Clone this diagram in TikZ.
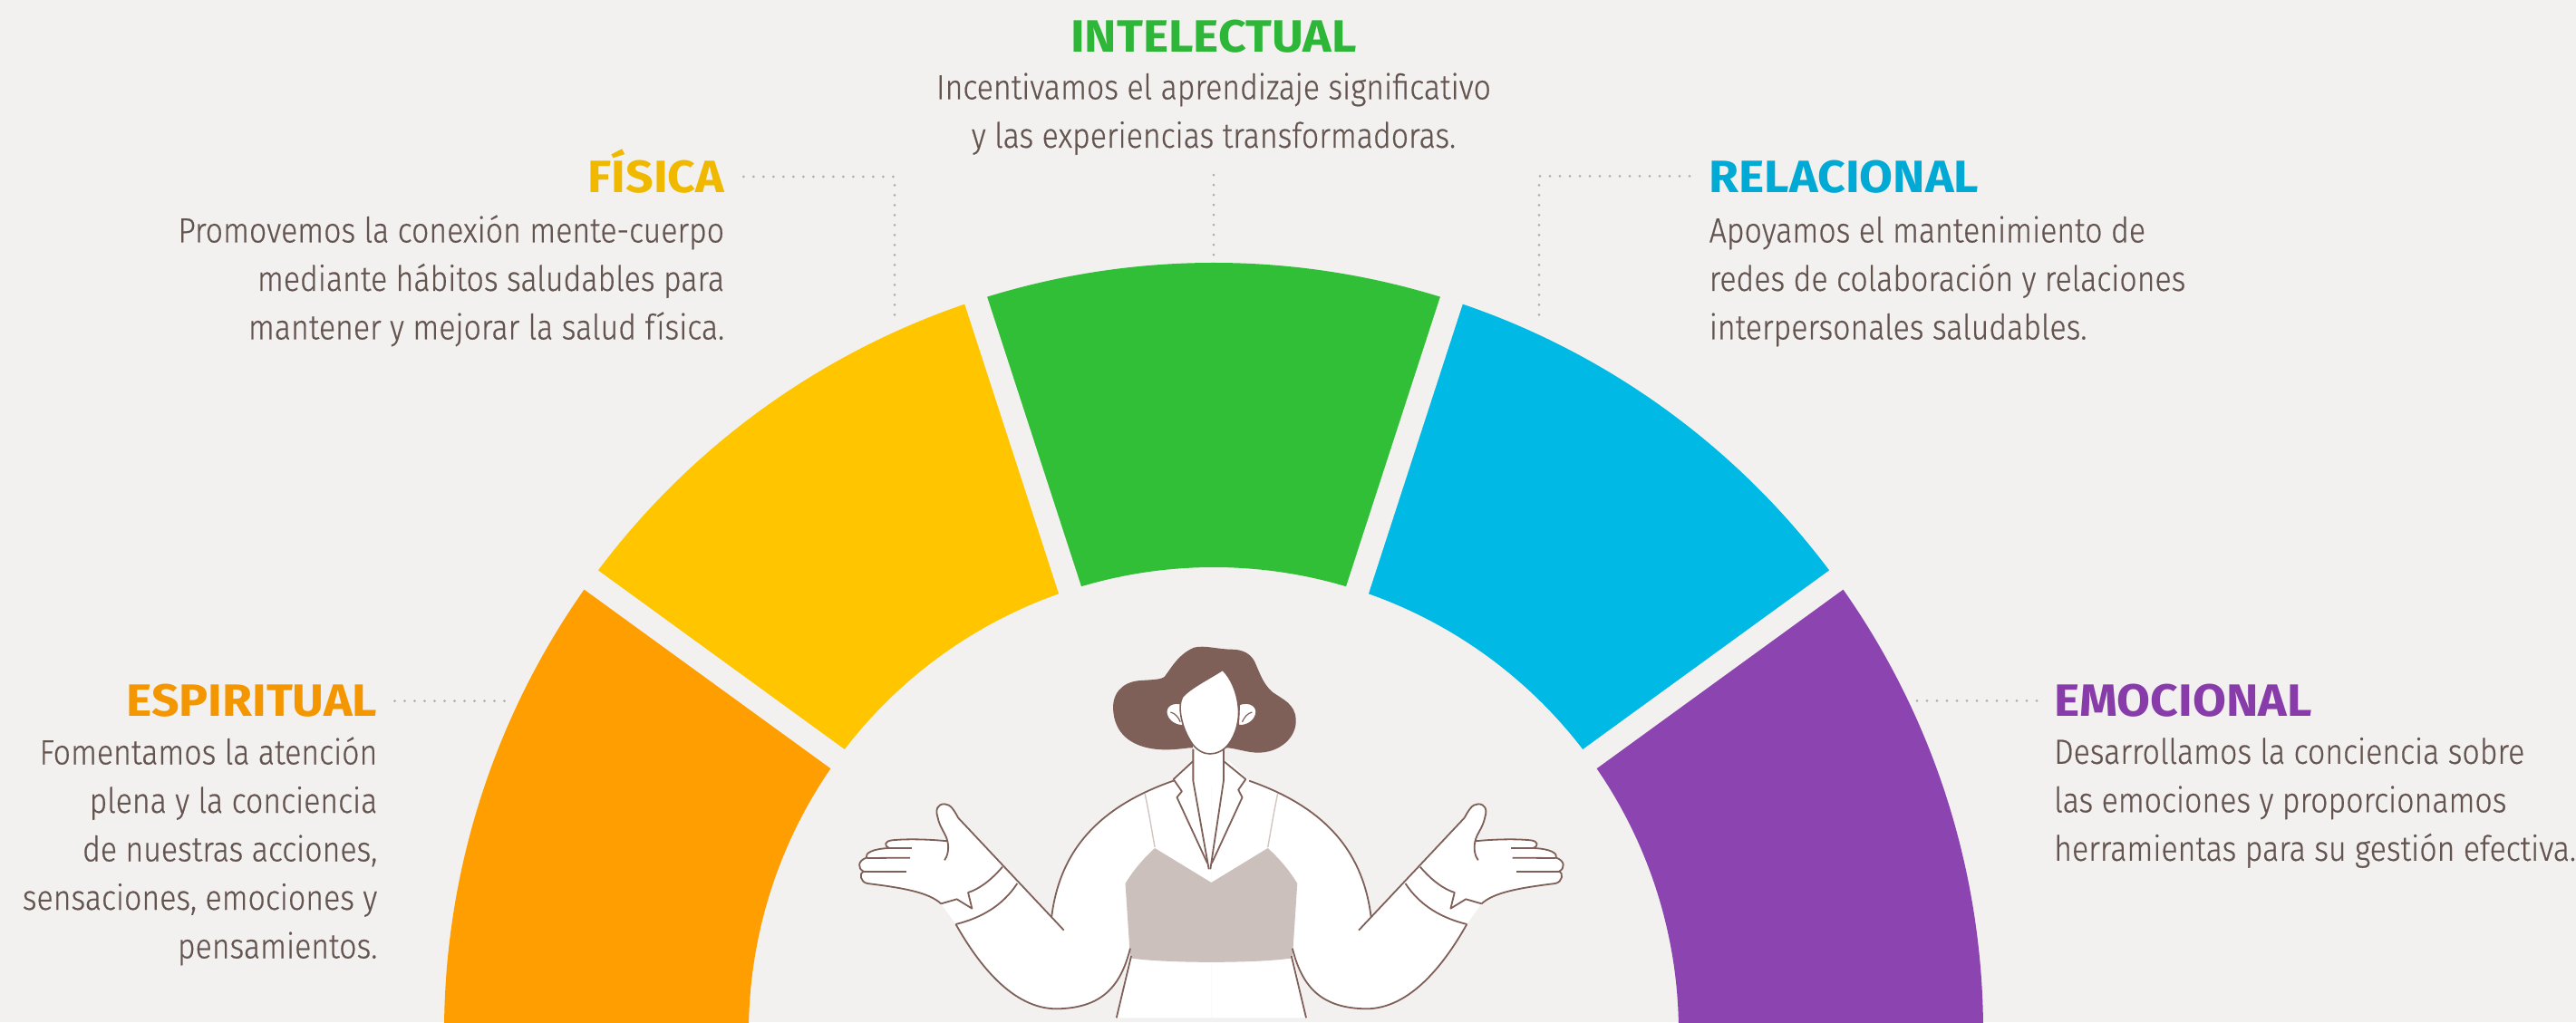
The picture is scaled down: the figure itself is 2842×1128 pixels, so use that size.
\documentclass[tikz,border=0pt]{standalone}
\usepackage{fontspec}
\setmainfont{Fira Sans}[UprightFont=* Light, FakeStretch=0.88, FakeBold=0.5]
\newfontfamily\headfont{Fira Sans}[FakeStretch=1.07]
\usetikzlibrary{calc}

\definecolor{bgc}{HTML}{F2F1EF}
\definecolor{segOrange}{HTML}{FF9E00}
\definecolor{segYellow}{HTML}{FFC600}
\definecolor{segGreen}{HTML}{31BF37}
\definecolor{segBlue}{HTML}{00B9E4}
\definecolor{segPurple}{HTML}{8C45B0}
\definecolor{hOrange}{HTML}{F39600}
\definecolor{hYellow}{HTML}{F0B900}
\definecolor{hGreen}{HTML}{2DB637}
\definecolor{hBlue}{HTML}{00AAD4}
\definecolor{hPurple}{HTML}{873CAA}
\definecolor{txt}{HTML}{645450}
\definecolor{dotc}{HTML}{B3ACA9}
\definecolor{hairc}{HTML}{7E6058}
\definecolor{strokec}{HTML}{7E6058}
\definecolor{cami}{HTML}{CBC0BC}
\definecolor{seamc}{HTML}{D2C6C2}

\newcommand\bodyfont{\fontsize{38.5}{53.5}\selectfont}
\newcommand\headsize{\headfont\bfseries\fontsize{50}{53.5}\selectfont}
\newcommand\topstrut{\rule{0pt}{32pt}}

% one half of the blouse: filled outline (mirrored for the other side)
\newcommand\halfblousefill{%
  \fill[white] (805,1330) -- (612,1330) -- (640,1110)
    .. controls (620,1230) and (580,1298) .. (490,1300)
    .. controls (400,1300) and (330,1150) .. (285,1020)
    -- (255,952)
    .. controls (230,915) and (180,900) .. (105,885)
    .. controls (90,880) and (88,850) .. (97,845)
    .. controls (85,835) and (85,810) .. (103,800)
    .. controls (100,785) and (115,770) .. (150,768)
    .. controls (138,760) and (140,745) .. (155,742)
    .. controls (190,736) and (240,740) .. (268,745)
    .. controls (265,720) and (252,700) .. (248,665)
    .. controls (243,640) and (248,622) .. (262,622)
    .. controls (275,622) and (282,645) .. (290,668)
    -- (480,995)
    .. controls (495,800) and (560,640) .. (728,545)
    -- (768,480) -- (805,480) -- cycle;
}
% one half of the blouse: outline strokes
\newcommand\halfblouselines{%
  \draw[fig] (480,995) .. controls (495,800) and (560,640) .. (728,545);
  \draw[fig] (290,668) -- (505,1040);
  \draw[fig] (640,1100) .. controls (620,1230) and (580,1298) .. (490,1300)
    .. controls (400,1300) and (330,1150) .. (285,1020);
  \draw[fig] (642,1125) -- (612,1330);
  \draw[fig] (255,952)
    .. controls (230,915) and (180,900) .. (105,885)
    .. controls (90,880) and (88,850) .. (97,845)
    .. controls (85,835) and (85,810) .. (103,800)
    .. controls (100,785) and (115,770) .. (150,768)
    .. controls (138,760) and (140,745) .. (155,742)
    .. controls (190,736) and (240,740) .. (268,745)
    .. controls (265,720) and (252,700) .. (248,665)
    .. controls (243,640) and (248,622) .. (262,622)
    .. controls (275,622) and (282,645) .. (290,668);
  \draw[fig] (195,769) -- (150,769);
  \draw[fig] (192,800) -- (104,801);
  \draw[fig] (185,845) -- (98,845);
  \draw[fig] (268,745) .. controls (272,770) and (268,795) .. (262,808);
  \draw[fig] (380,830) .. controls (355,878) and (330,905) .. (310,915)
    -- (318,968) -- (287,937) -- (255,952);
  \draw[fig] (410,885) .. controls (380,960) and (335,1000) .. (285,1020);
  \draw[seamc, line width=1.4] (670,588) .. controls (678,650) and (685,720) .. (690,765);
  \fill[white, draw=strokec, line width=1.5] (748,292) .. controls (725,280) and (710,300) .. (714,325)
    .. controls (718,350) and (735,365) .. (750,362) -- cycle;
  \draw[strokec, line width=1.2] (722,318) .. controls (732,322) and (738,335) .. (742,350);
}

\tikzset{
  body/.style={font=\bodyfont, text=txt, inner sep=0pt},
  head/.style={font=\headsize, inner sep=0pt},
  leader/.style={draw=dotc, line width=3, line cap=round, dash pattern=on 0pt off 11pt},
  fig/.style={draw=strokec, line width=1.8, line join=round},
}

\begin{document}
\begin{tikzpicture}[x=1pt,y=1pt]
\useasboundingbox (0,0) rectangle (2842,1128);
\fill[bgc] (0,0) rectangle (2842,1128);
\clip (0,0) rectangle (2842,1128);

% ring of five coloured sectors
\coordinate (C) at (1339,-11);
\foreach \a/\b/\c in {-10/36/segPurple, 36/72/segBlue, 72/108/segGreen, 108/144/segYellow, 144/190/segOrange}
  \fill[\c] ($(C)+(\a:849)$) arc[start angle=\a, end angle=\b, radius=849]
    -- ($(C)+(\b:513)$) arc[start angle=\b, end angle=\a, radius=513] -- cycle;
\foreach \a in {36,72,108,144}
  \draw[bgc, line width=26] ($(C)+(\a:480)$) -- ($(C)+(\a:880)$);

% ESPIRITUAL
\node[head, text=hOrange, anchor=base east] (espT) at (416.5,337.3) {ESPIRITUAL};
\node[body, align=right, anchor=north east] (espB) at (416.5,316.7)
  {\topstrut Fomentamos la atención\\plena y la conciencia\\de nuestras acciones,\\sensaciones, emociones y\\pensamientos.};
\coordinate (espL) at (564,354.3);
\draw[leader] ([shift={(19,17)}]espT.base east) -- (espL);

% FISICA
\node[head, text=hYellow, anchor=base east] (fisT) at (799.3,915.3) {FÍSICA};
\node[body, align=right, anchor=north east] (fisB) at (799.3,892.7)
  {\topstrut Promovemos la conexión mente-cuerpo\\mediante hábitos saludables para\\mantener y mejorar la salud física.};
\coordinate (fisK) at (987,933);
\coordinate (fisL) at (987,770);
\draw[leader] ([shift={(21,17.7)}]fisT.base east) -- (fisK) -- (fisL);

% INTELECTUAL
\node[head, text=hGreen, anchor=base] (intT) at (1339,1070.7) {INTELECTUAL};
\node[body, align=center, anchor=north] (intB) at (1339,1050.7)
  {\topstrut Incentivamos el aprendizaje significativo\\y las experiencias transformadoras.};
\coordinate (intL) at (1339,843);
\draw[leader] ([yshift=-22]intB.south) -- (intL);

% RELACIONAL
\node[head, text=hBlue, anchor=base west] (relT) at (1885.5,915.3) {RELACIONAL};
\node[body, align=left, anchor=north west] (relB) at (1885.5,892.7)
  {\topstrut Apoyamos el mantenimiento de\\redes de colaboración y relaciones\\interpersonales saludables.};
\coordinate (relK) at (1698,933.7);
\coordinate (relL) at (1698,770);
\draw[leader] ([shift={(-21.5,18.4)}]relT.base west) -- (relK) -- (relL);

% EMOCIONAL
\node[head, text=hPurple, anchor=base west] (emoT) at (2266,337.3) {EMOCIONAL};
\node[body, align=left, anchor=north west] (emoB) at (2266,317.3)
  {\topstrut Desarrollamos la conciencia sobre\\las emociones y proporcionamos\\herramientas para su gestión efectiva.};
\coordinate (emoL) at (2105,354.7);
\draw[leader] ([shift={(-19,17.4)}]emoT.base west) -- (emoL);

% figure in the middle of the ring
\begin{scope}[shift={(900pt,448pt)}, x={(0.5421pt,0pt)}, y={(0pt,-0.33333pt)}]
  % hair
  \fill[hairc] (606,322) .. controls (600,255) and (625,220) .. (655,214)
    .. controls (680,210) and (702,212) .. (710,200)
    .. controls (722,175) and (738,125) .. (770,104)
    .. controls (790,95) and (820,110) .. (845,110)
    .. controls (870,110) and (885,125) .. (893,150)
    .. controls (903,185) and (910,225) .. (930,252)
    .. controls (950,275) and (975,290) .. (977,340)
    .. controls (980,400) and (945,452) .. (900,452)
    .. controls (880,452) and (860,440) .. (840,436)
    -- (760,436)
    .. controls (740,440) and (715,445) .. (690,440)
    .. controls (650,432) and (612,400) .. (606,322) -- cycle;
  % blouse fill
  \fill[white] (768,430) rectangle (830,560);
  \halfblousefill
  \begin{scope}[shift={(1610,0)}, xscale=-1]
    \halfblousefill
  \end{scope}
  % camisole
  \fill[cami] (690,768) -- (805,882) -- (920,768)
    .. controls (945,805) and (965,845) .. (980,885)
    -- (970,1132) .. controls (900,1150) and (710,1150) .. (640,1132)
    -- (630,885) .. controls (645,845) and (665,805) .. (690,768) -- cycle;
  % blouse strokes
  \halfblouselines
  \begin{scope}[shift={(1610,0)}, xscale=-1]
    \halfblouselines
  \end{scope}
  % neck and collar
  \draw[fig] (768,440) -- (768,545) -- (800,838);
  \draw[fig] (830,440) -- (830,545) -- (803,838);
  \draw[fig] (768,480) -- (728,540) -- (745,580) -- (735,600) -- (797,818);
  \draw[fig] (830,480) -- (875,540) -- (860,575) -- (868,600) -- (806,818);
  % face
  \fill[white, draw=strokec, line width=1.6] (828,178)
    .. controls (795,212) and (762,238) .. (746,268)
    .. controls (736,300) and (744,370) .. (766,422)
    .. controls (776,445) and (790,456) .. (802,456)
    .. controls (816,456) and (830,445) .. (840,424)
    .. controls (856,390) and (863,340) .. (860,300)
    .. controls (857,250) and (845,205) .. (828,178) -- cycle;
\end{scope}
\end{tikzpicture}
\end{document}
